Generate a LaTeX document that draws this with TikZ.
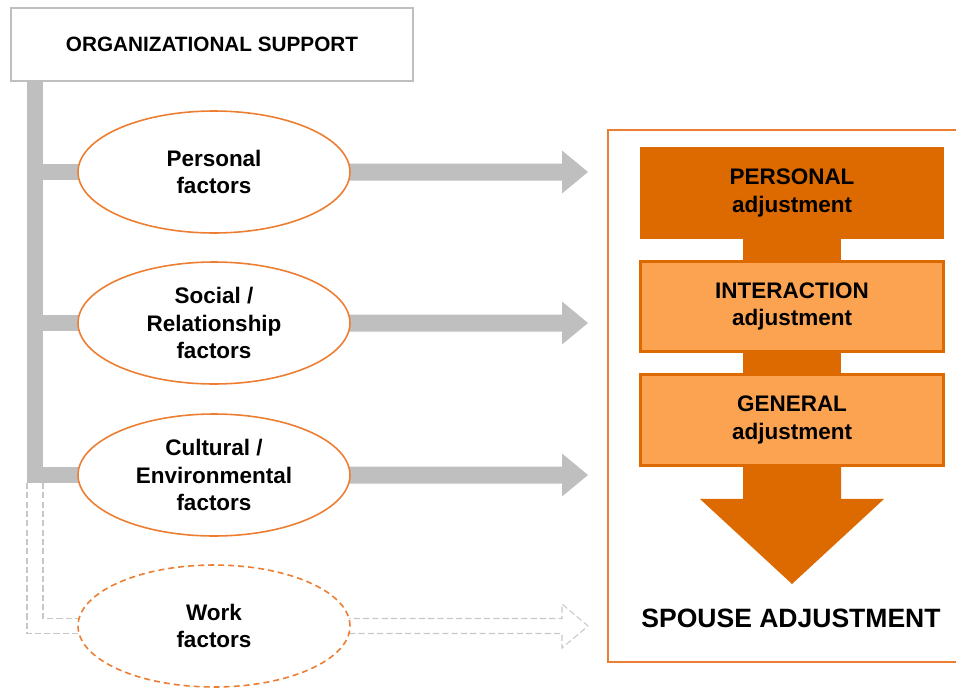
\documentclass[tikz,border=0pt]{standalone}
\usepackage{fontspec}
\setmainfont{Liberation Sans}
\usepackage{tikz}
\usetikzlibrary{shapes.geometric,backgrounds,calc}

\definecolor{bargray}{RGB}{191,191,191}
\definecolor{ghostgray}{RGB}{200,200,200}
\definecolor{borange}{RGB}{237,125,49}
\definecolor{dorange}{RGB}{221,106,0}
\definecolor{lorange}{RGB}{252,163,82}

\begin{document}
\begin{tikzpicture}[x=0.02cm, y=-0.02cm,
        factor/.style={ellipse, draw=borange, line width=0.9pt, fill=white,
            minimum width=5.44cm, minimum height=2.44cm, inner sep=0pt, align=center,
            font=\bfseries\fontsize{12.8}{15.4}\selectfont},
        bar/.style={draw=bargray, line width=9.1pt},
        ghost/.style={draw=ghostgray, line width=0.6pt, dash pattern=on 3.5pt off 1.8pt},
        adjbox/.style={rectangle, minimum width=6.06cm, align=center,
            font=\bfseries\fontsize{12.8}{15.4}\selectfont}]
    \useasboundingbox (0,0) rectangle (956,690);

    \node [draw=bargray, line width=1.1pt, fill=white, minimum width=8.04cm, minimum height=1.46cm,
        font=\bfseries\fontsize{11.8}{14}\selectfont] (org) at (212,44.5) {ORGANIZATIONAL SUPPORT};

    % factors
    \node [factor] (pers) at (214,172) {Personal\\factors};
    \node [factor] (soc) at (214,323) {Social /\\Relationship\\factors};
    \node [factor] (cult) at (214,475) {Cultural /\\Environmental\\factors};
    \node [factor, dash pattern=on 3.4pt off 2.3pt] (work) at (214,626) {Work\\factors};

    \coordinate (trunk) at (35,81);
    \begin{scope}[on background layer]
        \draw [bar] (trunk) -- (trunk |- cult.center) -- (cult.center);
        \draw [bar] (trunk |- pers.center) -- (pers.center);
        \draw [bar] (trunk |- soc.center) -- (soc.center);
        \foreach \f in {pers,soc,cult}
            \fill [bargray, shift={(\f.center)}] (0,-8.5) -- (348,-8.5) -- (348,-21.5) -- (374,0)
                -- (348,21.5) -- (348,8.5) -- (0,8.5) -- cycle;
        % work factors only as outline
        \draw [ghost] ($(trunk |- cult.center)+(-8,8)$) -- ($(trunk |- work.center)+(-8,7.5)$) -- ($(work.center)+(0,7.5)$);
        \draw [ghost] ($(trunk |- cult.center)+(8,8)$) -- ($(trunk |- work.center)+(8,-7.5)$) -- ($(work.center)+(0,-7.5)$);
        \draw [ghost, shift={(work.center)}] (0,-7.5) -- (348,-7.5) -- (348,-22) -- (374,0)
            -- (348,22) -- (348,7.5) -- (0,7.5);
    \end{scope}

    % adjustment column
    \draw [borange, line width=0.9pt] (957,130) -- (608,130) -- (608,662) -- (957,662);
    \node [adjbox, fill=dorange, minimum width=6.1cm, minimum height=1.84cm] (padj) at (792,193) {PERSONAL\\adjustment};
    \node [adjbox, fill=lorange, draw=dorange, line width=1.7pt, minimum height=1.8cm] (iadj) at (792,306.5) {INTERACTION\\adjustment};
    \node [adjbox, fill=lorange, draw=dorange, line width=1.7pt, minimum height=1.82cm] (gadj) at (792,420) {GENERAL\\adjustment};
    \fill [dorange] ([xshift=-0.98cm]padj.south) rectangle ([xshift=0.98cm]iadj.north);
    \fill [dorange] ([xshift=-0.98cm]iadj.south) rectangle ([xshift=0.98cm]gadj.north);
    \fill [dorange, shift={(gadj.south)}] (-49,0) -- (-49,32) -- (-92,32) -- (0,117) -- (92,32) -- (49,32) -- (49,0) -- cycle;
    \node [font=\bfseries\fontsize{15.1}{18}\selectfont] (spouse) at (791,618) {SPOUSE ADJUSTMENT};
\end{tikzpicture}
\end{document}
